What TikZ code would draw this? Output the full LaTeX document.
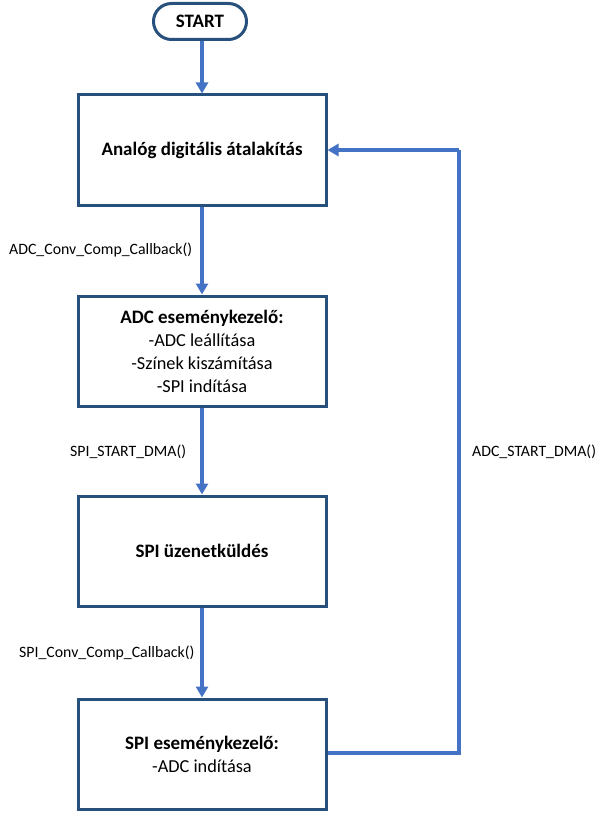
\documentclass[tikz,border=0pt]{standalone}
\usepackage{fontspec}
\setmainfont{Carlito}
\usetikzlibrary{arrows.meta,shapes.misc}
\definecolor{boxc}{RGB}{40,80,125}
\definecolor{arrc}{RGB}{68,114,196}
\newcommand{\bt}[1]{{\fontsize{19}{23}\selectfont\bfseries #1}}
\begin{document}
\begin{tikzpicture}[x=1pt,y=-1pt,
  procbox/.style={draw=boxc,line width=3pt,fill=white,minimum width=248pt,minimum height=110pt,align=center,font=\fontsize{18.3}{23}\selectfont,inner sep=0pt},
  term/.style={draw=boxc,line width=3pt,rounded rectangle,minimum width=93pt,minimum height=36pt,font=\fontsize{19}{22}\selectfont\bfseries,inner sep=0pt},
  conn/.style={draw=arrc,line width=3.5pt,-{Triangle[length=11pt,width=12pt]}},
  lbl/.style={font=\fontsize{15.8}{18}\selectfont,inner sep=0pt}]
\useasboundingbox (0,0) rectangle (609,813);
\node[term] (start) at (200,21.5) {START};
\node[procbox] (b1) at (202,150) {\bt{Analóg digitális átalakítás}};
\node[procbox] (b2) at (202,351) {\bt{ADC eseménykezelő:}\\-ADC leállítása\\-Színek kiszámítása\\-SPI indítása};
\node[procbox] (b3) at (202,551) {\bt{SPI üzenetküldés}};
\node[procbox] (b4) at (202,754) {\bt{SPI eseménykezelő:}\\-ADC indítása};
\coordinate (c1) at (459,753);
\coordinate (c2) at (459,150);
\draw[conn] (start.south -| b1.north) -- (b1.north);
\draw[conn] (b1) -- (b2);
\draw[conn] (b2) -- (b3);
\draw[conn] (b3) -- (b4);
\draw[conn,-] (b4.east |- c1) -- (c1) -- (c2);
\draw[conn] (c2) -- (b1.east);
\node[lbl,anchor=west] (l1) at (9,250) {ADC\_Conv\_Comp\_Callback()};
\node[lbl,anchor=west] (l2) at (70,452) {SPI\_START\_DMA()};
\node[lbl,anchor=west] (l3) at (19,653) {SPI\_Conv\_Comp\_Callback()};
\node[lbl,anchor=west] (l4) at (472,452) {ADC\_START\_DMA()};
\end{tikzpicture}
\end{document}
